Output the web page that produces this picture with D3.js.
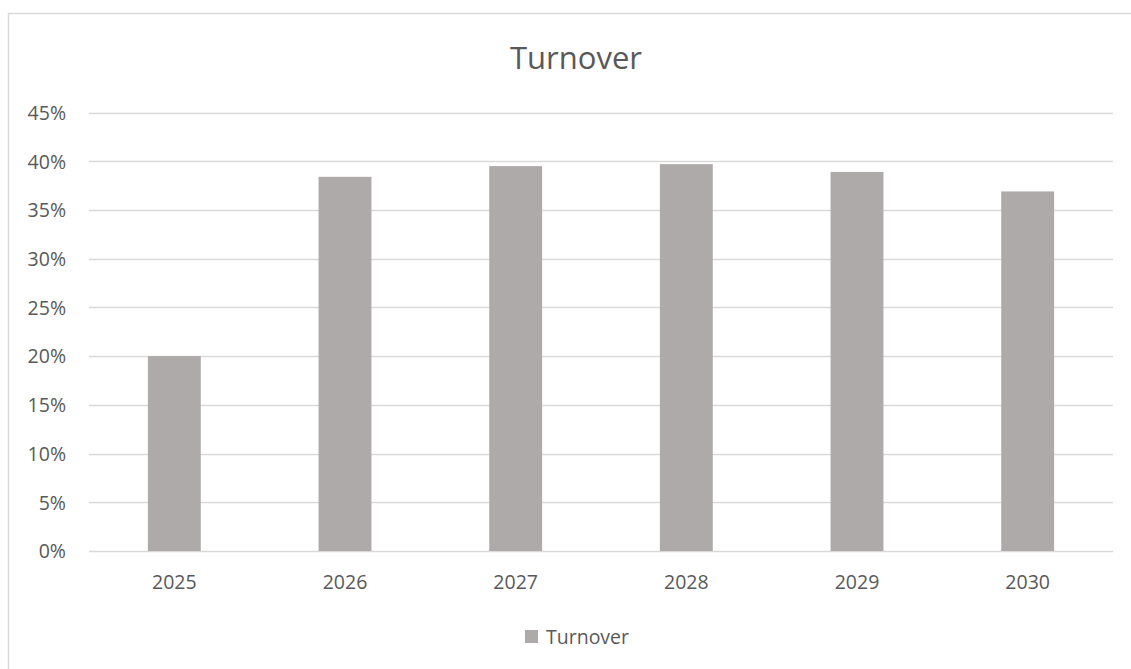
<!DOCTYPE html>
<html>
<head>
<meta charset="utf-8">
<script src="https://cdn.jsdelivr.net/npm/d3@7"></script>
<style>
  body { margin: 0; background: #fff; }
  text { font-family: "Open Sans", sans-serif; fill: #595959; }
</style>
</head>
<body>
<svg id="chart" width="1131" height="669"></svg>
<script>
'use strict';

// data
var years = ["2025", "2026", "2027", "2028", "2029", "2030"];
var turnover = [0.200, 0.384, 0.395, 0.397, 0.389, 0.369];
var yTicks = [0, 0.05, 0.10, 0.15, 0.20, 0.25, 0.30, 0.35, 0.40, 0.45];
var seriesName = "Turnover";

var svg = d3.select("#chart");

/* chart frame */
svg.append("rect")
  .attr("x", 8.5).attr("y", 13.5)
  .attr("width", 1200).attr("height", 800)
  .attr("fill", "#fff").attr("stroke", "#d9d9d9").attr("stroke-width", 1.5);

var plot = { left: 89, right: 1113, top: 112.5, bottom: 551 };

var x = d3.scaleBand().domain(years).range([plot.left, plot.right]).paddingInner(0.69).paddingOuter(0.345);
var y = d3.scaleLinear().domain([0, 0.45]).range([plot.bottom, plot.top]);

/* gridlines */
svg.append("g").selectAll("line").data(yTicks).join("line")
  .attr("x1", plot.left).attr("x2", plot.right)
  .attr("y1", function(d) { return Math.round(y(d)) + 0.5; })
  .attr("y2", function(d) { return Math.round(y(d)) + 0.5; })
  .attr("stroke", "#d9d9d9").attr("stroke-width", 1.5);

/* y axis labels */
var yAxis = d3.axisLeft(y).tickValues(yTicks).tickFormat(d3.format(".0%")).tickSize(0).tickPadding(0);
var yg = svg.append("g").attr("transform", "translate(66,0)").call(yAxis);
yg.select(".domain").remove();
yg.selectAll("text").style("font-size", "19.5px").attr("fill", "#595959").attr("dy", "0.35em");

/* bars */
svg.append("g").selectAll("rect").data(turnover).join("rect")
  .attr("x", function(d, i) { return x(years[i]); })
  .attr("y", function(d) { return y(d); })
  .attr("width", x.bandwidth())
  .attr("height", function(d) { return y(0) - y(d); })
  .attr("fill", "#aeaaaa");

/* x axis labels */
var xAxis = d3.axisBottom(x).tickSize(0).tickPadding(0);
var xg = svg.append("g").attr("transform", "translate(0,589)").call(xAxis);
xg.select(".domain").remove();
xg.selectAll("text").style("font-size", "19.5px").attr("fill", "#595959").attr("dy", 0);

/* title */
svg.append("text")
  .attr("x", 576).attr("y", 69)
  .attr("text-anchor", "middle")
  .style("font-size", "31px")
  .text(seriesName);

/* legend */
var legend = svg.append("g").attr("transform", "translate(525,630)");
legend.append("rect").attr("width", 13).attr("height", 13).attr("fill", "#aeaaaa");
legend.append("text").attr("x", 21).attr("y", 13.5).style("font-size", "19.5px").text(seriesName);
</script>
</body>
</html>
